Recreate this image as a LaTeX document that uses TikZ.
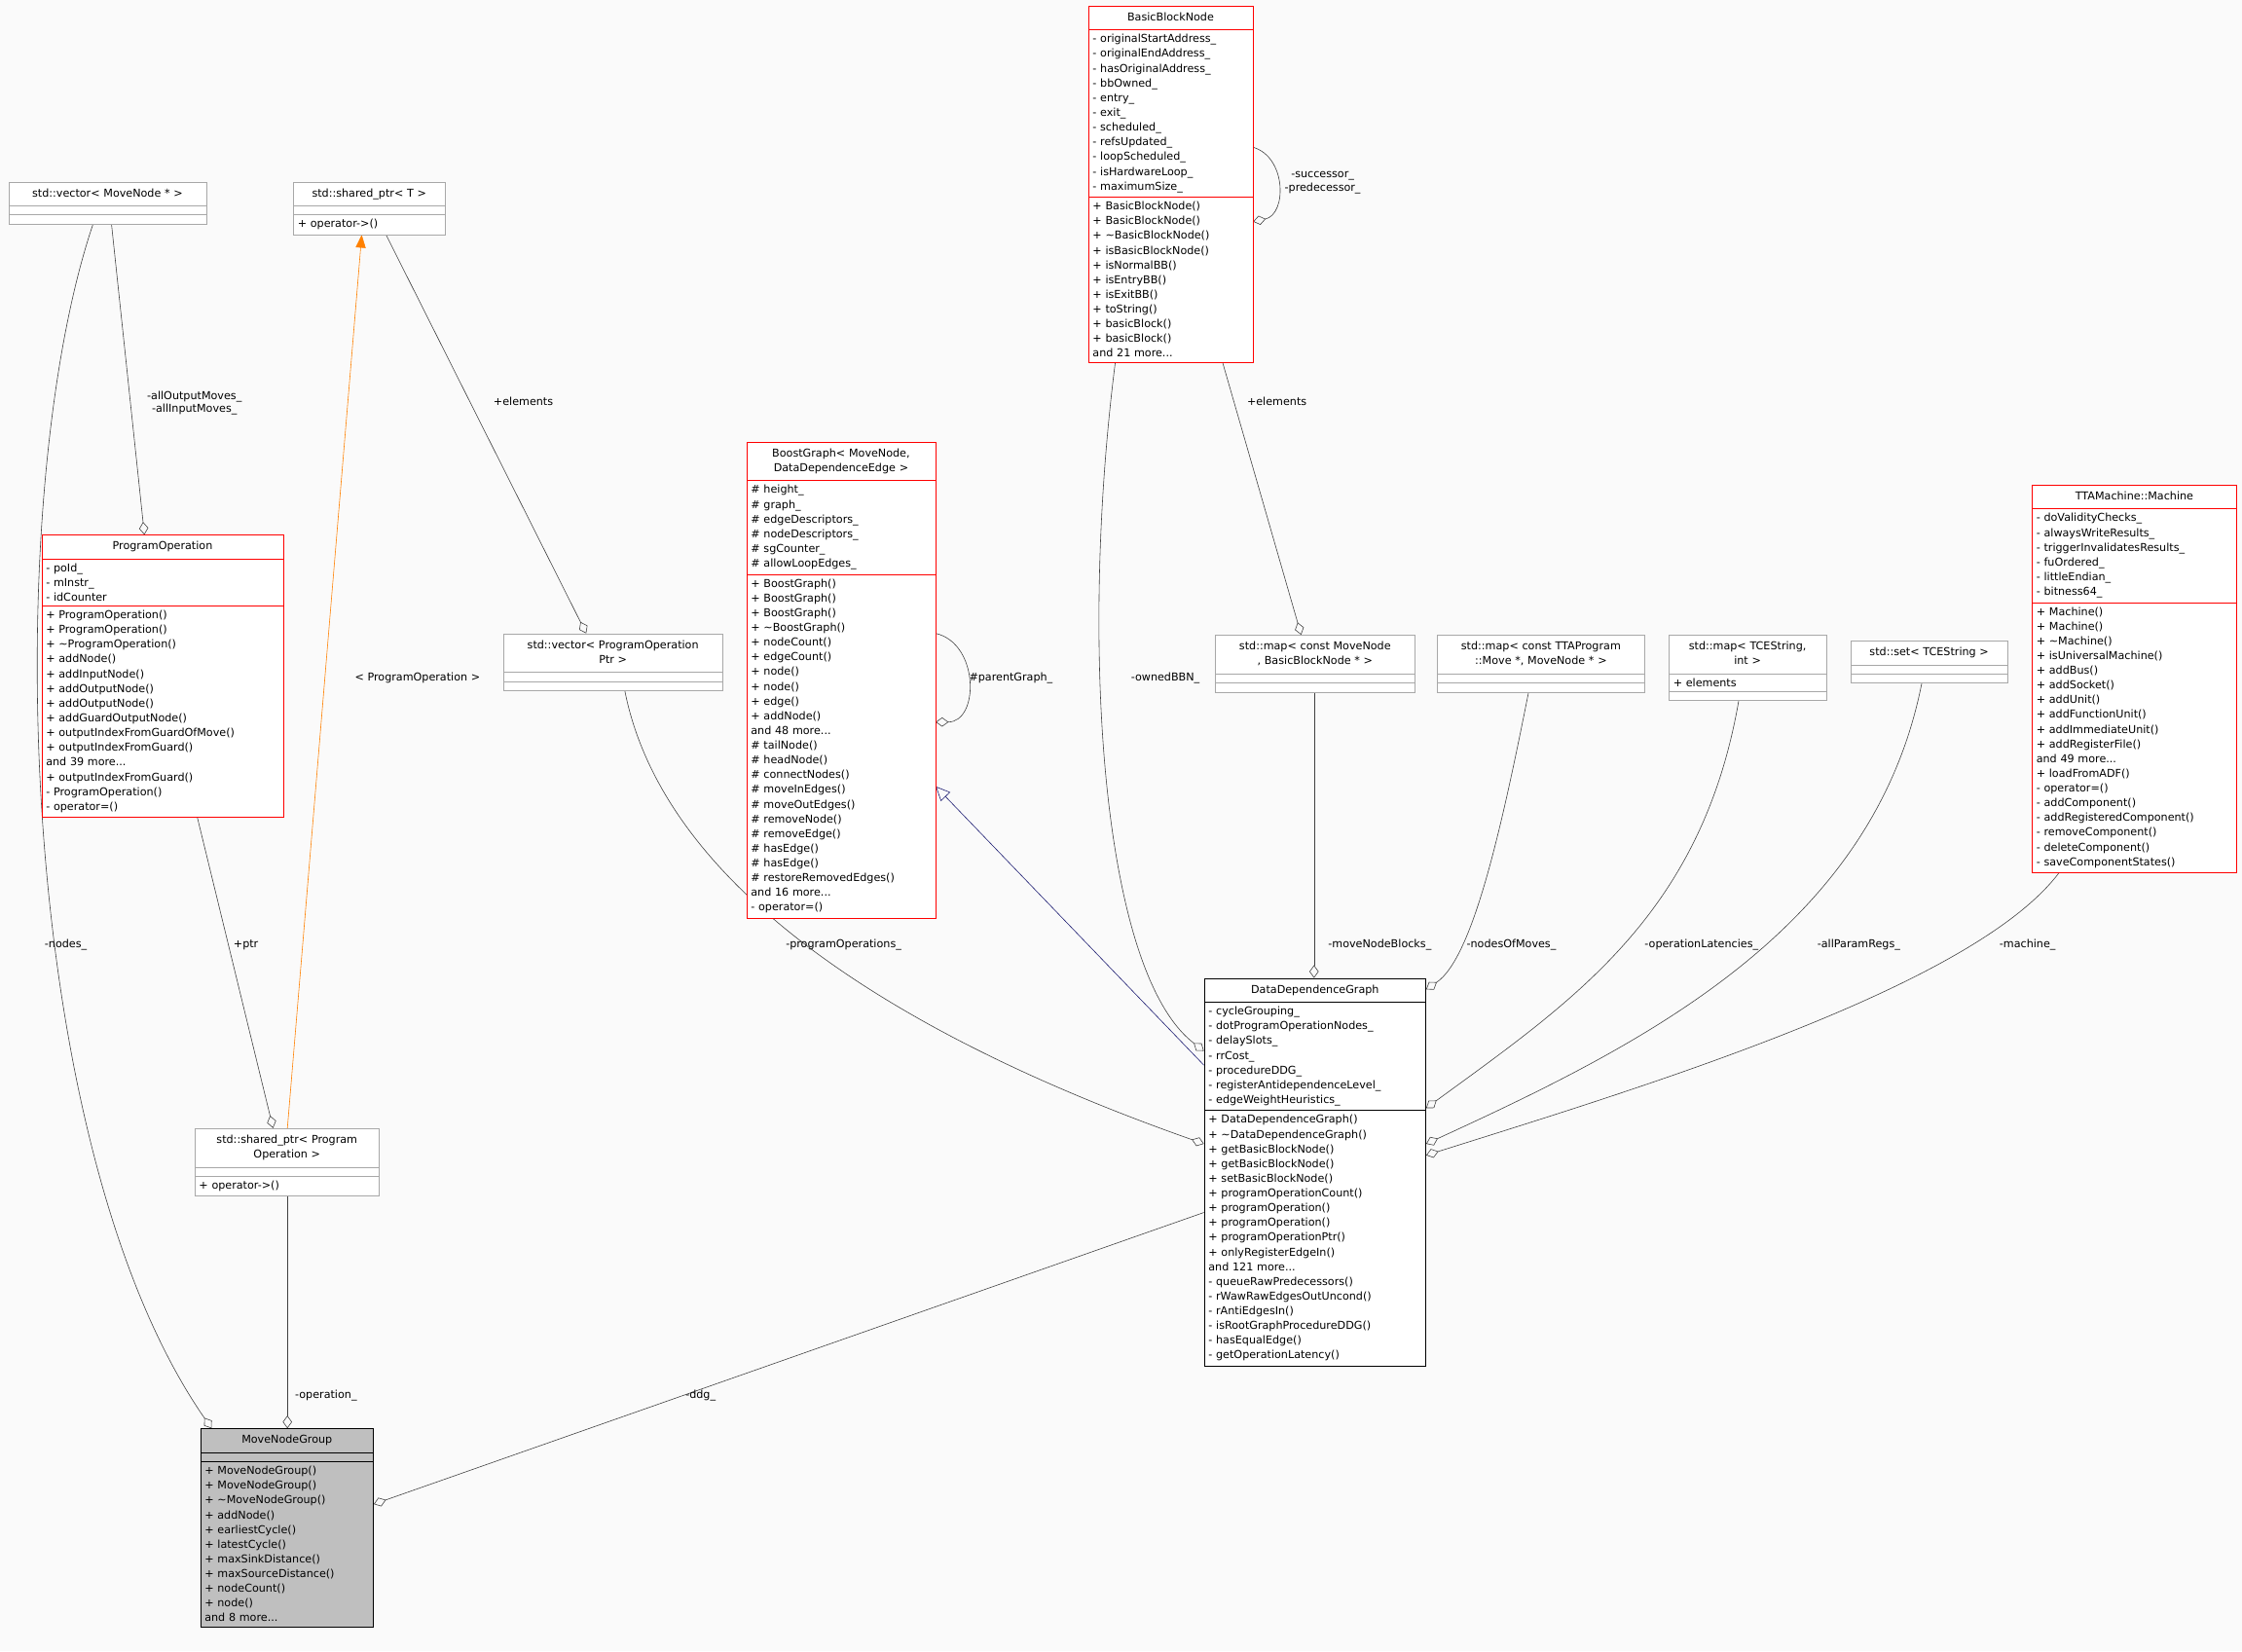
\documentclass[tikz,border=0pt]{standalone}
\usepackage{fontspec}
\setmainfont{DejaVu Sans}
\usetikzlibrary{shapes.multipart,arrows.meta,backgrounds}
\definecolor{edgegray}{HTML}{404040}
\definecolor{boxgray}{HTML}{A8A8A8}
\definecolor{dblue}{HTML}{191970}
\newcommand{\tl}{\textasciitilde}
\newcommand{\ctitle}[1]{\hfill\begin{tabular}{@{}c@{}}#1\end{tabular}\hfill\null}
\begin{document}
\begin{tikzpicture}[x=1pt,y=-1pt,
 cls/.style={rectangle split, rectangle split parts=3, draw, anchor=north west, inner xsep=3pt, inner ysep=3pt,
   font=\fontsize{7.6}{10.3}\selectfont, rectangle split empty part height=9pt, fill=white},
 redb/.style={cls, draw=red},
 grayb/.style={cls, draw=boxgray},
 blackb/.style={cls, draw=black},
 agg/.style={draw=edgegray, -{Diamond[open,length=9pt,width=6.5pt]}},
 lbl/.style={font=\fontsize{7.6}{9.3}\selectfont, align=center, inner sep=1pt}]
\useasboundingbox (0,0) rectangle (1568,1155);

\node[grayb, text width=132pt] (vmn) at (6,127) {\ctitle{std::vector< MoveNode * >}\nodepart{second}\nodepart{third}};
\node[grayb, text width=100pt] (spT) at (205,127) {\ctitle{std::shared\_ptr< T >}\nodepart{second}\nodepart{third}\raggedright + operator->()};
\node[redb, text width=109pt] (bbn) at (761,4) {\ctitle{BasicBlockNode}\nodepart{second}\raggedright - originalStartAddress\_\\- originalEndAddress\_\\- hasOriginalAddress\_\\- bbOwned\_\\- entry\_\\- exit\_\\- scheduled\_\\- refsUpdated\_\\- loopScheduled\_\\- isHardwareLoop\_\\- maximumSize\_\nodepart{third}\raggedright + BasicBlockNode()\\+ BasicBlockNode()\\+ \tl BasicBlockNode()\\+ isBasicBlockNode()\\+ isNormalBB()\\+ isEntryBB()\\+ isExitBB()\\+ toString()\\+ basicBlock()\\+ basicBlock()\\and 21 more...};
\node[redb, text width=126pt] (bg) at (522,309) {\ctitle{BoostGraph< MoveNode,\\ DataDependenceEdge >}\nodepart{second}\raggedright \# height\_\\\# graph\_\\\# edgeDescriptors\_\\\# nodeDescriptors\_\\\# sgCounter\_\\\# allowLoopEdges\_\nodepart{third}\raggedright + BoostGraph()\\+ BoostGraph()\\+ BoostGraph()\\+ \tl BoostGraph()\\+ nodeCount()\\+ edgeCount()\\+ node()\\+ node()\\+ edge()\\+ addNode()\\and 48 more...\\\# tailNode()\\\# headNode()\\\# connectNodes()\\\# moveInEdges()\\\# moveOutEdges()\\\# removeNode()\\\# removeEdge()\\\# hasEdge()\\\# hasEdge()\\\# restoreRemovedEdges()\\and 16 more...\\- operator=()};
\node[redb, text width=163pt] (po) at (29,374) {\ctitle{ProgramOperation}\nodepart{second}\raggedright - poId\_\\- mInstr\_\\- idCounter\nodepart{third}\raggedright + ProgramOperation()\\+ ProgramOperation()\\+ \tl ProgramOperation()\\+ addNode()\\+ addInputNode()\\+ addOutputNode()\\+ addOutputNode()\\+ addGuardOutputNode()\\+ outputIndexFromGuardOfMove()\\+ outputIndexFromGuard()\\and 39 more...\\+ outputIndexFromGuard()\\- ProgramOperation()\\- operator=()};
\node[grayb, text width=147pt] (vpo) at (352,443) {\ctitle{std::vector< ProgramOperation\\Ptr >}\nodepart{second}\nodepart{third}};
\node[grayb, text width=133pt] (mmn) at (850,444) {\ctitle{std::map< const MoveNode\\ *, BasicBlockNode * >}\nodepart{second}\nodepart{third}};
\node[grayb, text width=139pt] (mtp) at (1005,444) {\ctitle{std::map< const TTAProgram\\::Move *, MoveNode * >}\nodepart{second}\nodepart{third}};
\node[grayb, text width=104pt] (mti) at (1167,444) {\ctitle{std::map< TCEString,\\ int >}\nodepart{second}\raggedright + elements\nodepart{third}};
\node[grayb, text width=104pt] (sts) at (1294,448) {\ctitle{std::set< TCEString >}\nodepart{second}\nodepart{third}};
\node[redb, text width=137pt] (mach) at (1421,339) {\ctitle{TTAMachine::Machine}\nodepart{second}\raggedright - doValidityChecks\_\\- alwaysWriteResults\_\\- triggerInvalidatesResults\_\\- fuOrdered\_\\- littleEndian\_\\- bitness64\_\nodepart{third}\raggedright + Machine()\\+ Machine()\\+ \tl Machine()\\+ isUniversalMachine()\\+ addBus()\\+ addSocket()\\+ addUnit()\\+ addFunctionUnit()\\+ addImmediateUnit()\\+ addRegisterFile()\\and 49 more...\\+ loadFromADF()\\- operator=()\\- addComponent()\\- addRegisteredComponent()\\- removeComponent()\\- deleteComponent()\\- saveComponentStates()};
\node[blackb, text width=149pt] (ddg) at (842,684) {\ctitle{DataDependenceGraph}\nodepart{second}\raggedright - cycleGrouping\_\\- dotProgramOperationNodes\_\\- delaySlots\_\\- rrCost\_\\- procedureDDG\_\\- registerAntidependenceLevel\_\\- edgeWeightHeuristics\_\nodepart{third}\raggedright + DataDependenceGraph()\\+ \tl DataDependenceGraph()\\+ getBasicBlockNode()\\+ getBasicBlockNode()\\+ setBasicBlockNode()\\+ programOperationCount()\\+ programOperation()\\+ programOperation()\\+ programOperationPtr()\\+ onlyRegisterEdgeIn()\\and 121 more...\\- queueRawPredecessors()\\- rWawRawEdgesOutUncond()\\- rAntiEdgesIn()\\- isRootGraphProcedureDDG()\\- hasEqualEdge()\\- getOperationLatency()};
\node[grayb, text width=123pt] (spo) at (136,789) {\ctitle{std::shared\_ptr< Program\\Operation >}\nodepart{second}\nodepart{third}\raggedright + operator->()};
\node[blackb, fill=gray!50, text width=115pt] (mng) at (140,999) {\ctitle{MoveNodeGroup}\nodepart{second}\nodepart{third}\raggedright + MoveNodeGroup()\\+ MoveNodeGroup()\\+ \tl MoveNodeGroup()\\+ addNode()\\+ earliestCycle()\\+ latestCycle()\\+ maxSinkDistance()\\+ maxSourceDistance()\\+ nodeCount()\\+ node()\\and 8 more...};

\begin{scope}[on background layer]
\fill[white!98!black] (0,0) rectangle (1568,1155);
\draw[agg] ([xshift=59pt]vmn.south west) .. controls (0,350) and (10,800) .. ([xshift=8pt]mng.north west);
\draw[agg] ([xshift=72pt]vmn.south west) -- ([xshift=72pt]po.north west);
\draw[orange, -{Triangle[length=9pt,width=7pt]}] ([xshift=65pt]spo.north west) -- ([xshift=48pt]spT.south west);
\draw[agg] ([xshift=65pt]spT.south west) -- ([xshift=58pt]vpo.north west);
\draw[agg] ([xshift=109pt]po.south west) -- ([xshift=55pt]spo.north west);
\draw[agg] ([xshift=65pt]spo.south west) -- ([xshift=61pt]mng.north west);
\draw[agg] ([yshift=-164pt]ddg.north west) -- ([yshift=-53pt]mng.north east);
\draw[agg] ([xshift=85pt]vpo.south west) .. controls (470,650) and (700,750) .. ([yshift=-116pt]ddg.north west);
\draw[dblue, -{Triangle[open,length=10pt,width=9pt]}] ([yshift=-61pt]ddg.north west) -- ([yshift=-241pt]bg.north east);
\draw[agg] ([yshift=-134pt]bg.north east) .. controls (685,450) and (685,505) .. ([yshift=-196pt]bg.north east);
\draw[agg] ([xshift=19pt]bbn.south west) .. controls (755,450) and (770,680) .. ([yshift=-51pt]ddg.north west);
\draw[agg] ([yshift=-99pt]bbn.north east) .. controls (900,110) and (900,150) .. ([yshift=-151pt]bbn.north east);
\draw[agg] ([xshift=94pt]bbn.south west) -- ([xshift=60pt]mmn.north west);
\draw[agg] ([xshift=69pt]mmn.south west) -- ([xshift=77pt]ddg.north west);
\draw[agg] ([xshift=64pt]mtp.south west) .. controls (1050,580) and (1030,670) .. ([yshift=-8pt]ddg.north east);
\draw[agg] ([xshift=49pt]mti.south west) .. controls (1190,640) and (1100,700) .. ([yshift=-91pt]ddg.north east);
\draw[agg] ([xshift=50pt]sts.south west) .. controls (1310,650) and (1150,730) .. ([yshift=-116pt]ddg.north east);
\draw[agg] ([xshift=19pt]mach.south west) .. controls (1380,690) and (1150,760) .. ([yshift=-124pt]ddg.north east);
\end{scope}

\node[lbl] (l1) at (46,661) {-nodes\_};
\node[lbl] (l2) at (136,282) {-allOutputMoves\_\\-allInputMoves\_};
\node[lbl] (l3) at (292,474) {< ProgramOperation >};
\node[lbl] (l4) at (366,281) {+elements};
\node[lbl] (l5) at (172,661) {+ptr};
\node[lbl] (l6) at (228,976) {-operation\_};
\node[lbl] (l7) at (490,976) {-ddg\_};
\node[lbl] (l8) at (590,661) {-programOperations\_};
\node[lbl] (l9) at (707,474) {\#parentGraph\_};
\node[lbl] (l10) at (815,474) {-ownedBBN\_};
\node[lbl] (l11) at (925,128) {-successor\_\\-predecessor\_};
\node[lbl] (l12) at (893,281) {+elements};
\node[lbl] (l13) at (965,661) {-moveNodeBlocks\_};
\node[lbl] (l14) at (1057,661) {-nodesOfMoves\_};
\node[lbl] (l15) at (1190,661) {-operationLatencies\_};
\node[lbl] (l16) at (1300,661) {-allParamRegs\_};
\node[lbl] (l17) at (1418,661) {-machine\_};
\end{tikzpicture}
\end{document}
